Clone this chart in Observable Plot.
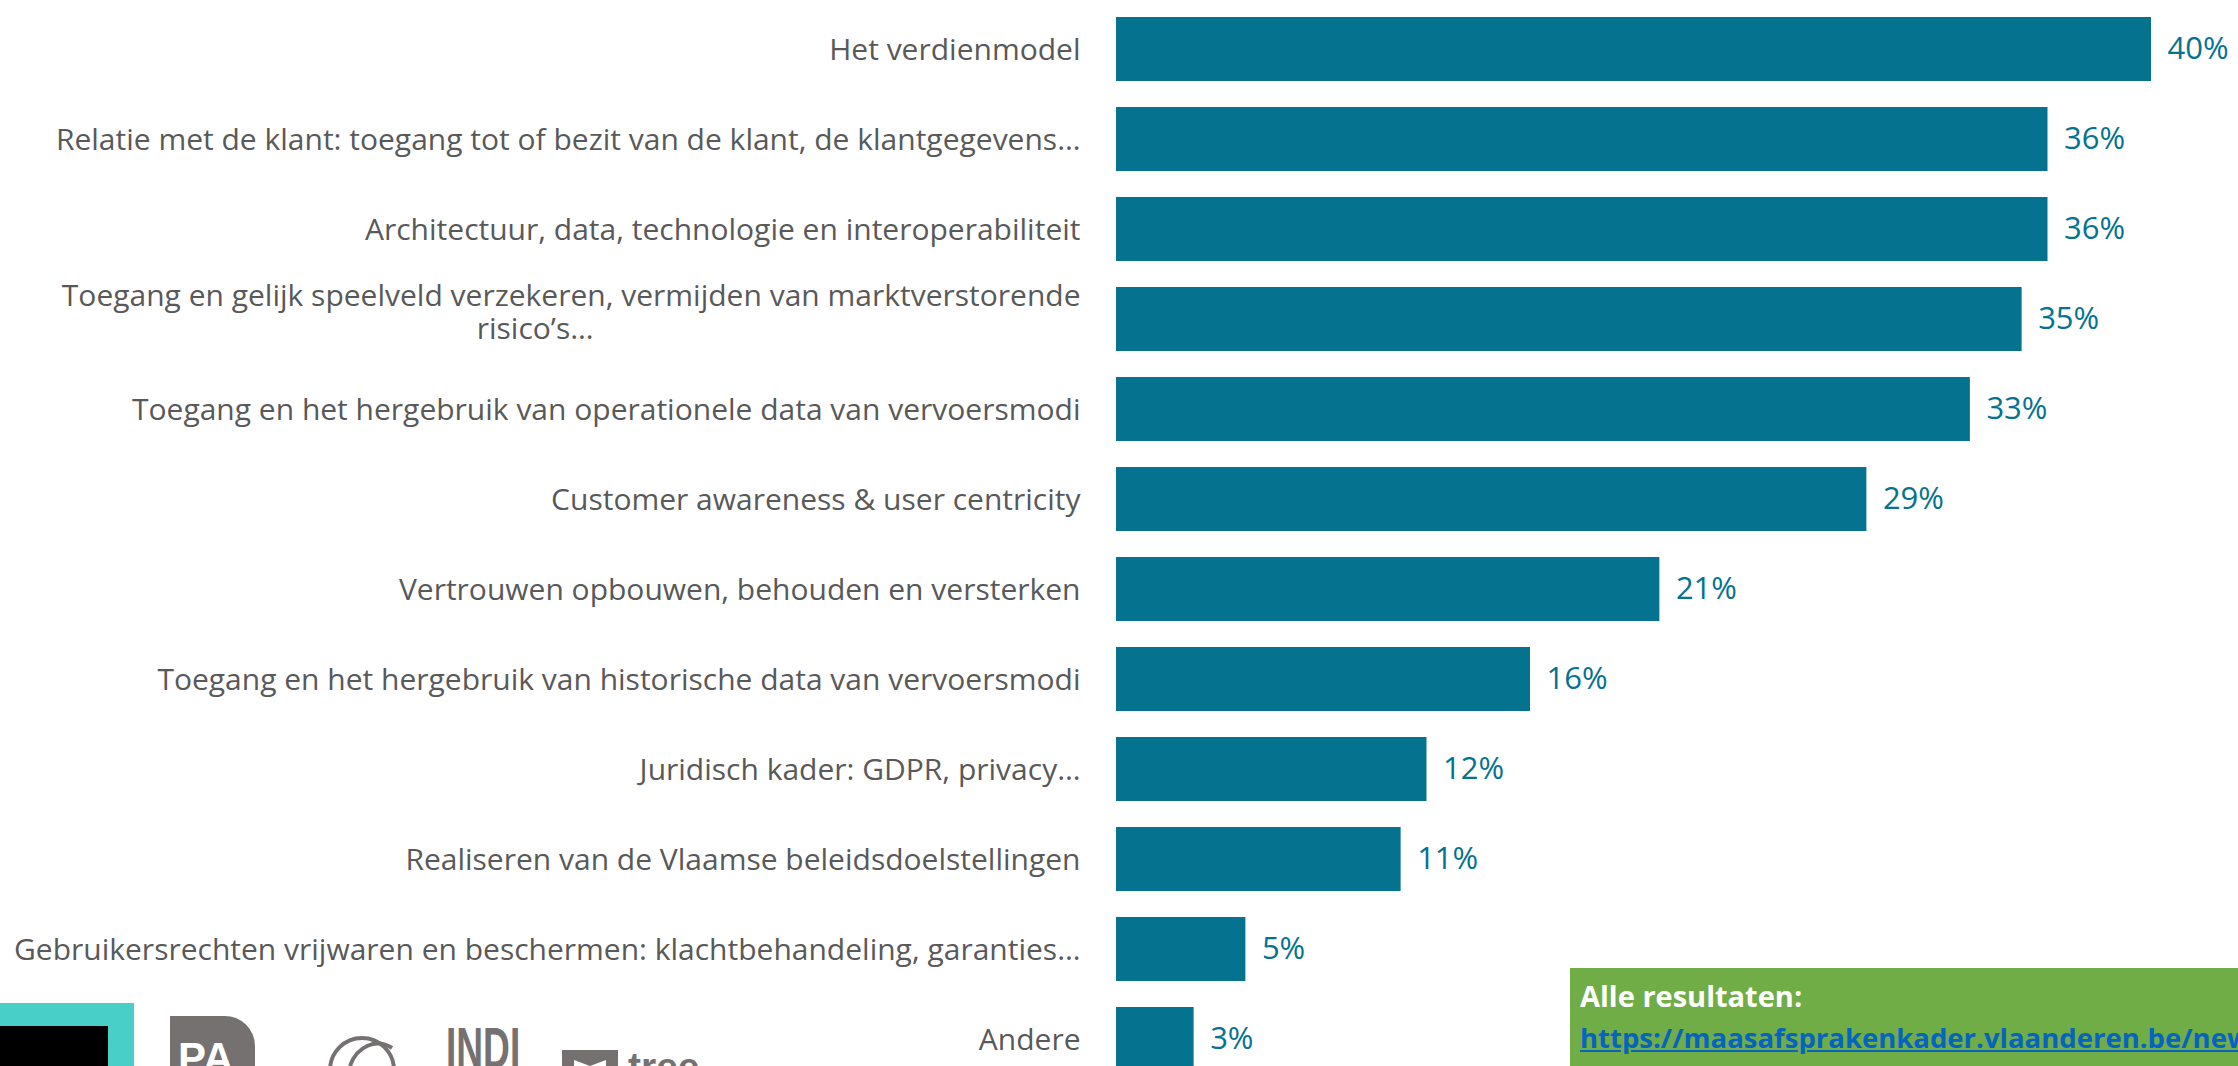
<!DOCTYPE html>
<html>
<head>
<meta charset="utf-8">
<script src="https://cdn.jsdelivr.net/npm/d3@7"></script>
<script src="https://cdn.jsdelivr.net/npm/@observablehq/plot@0.6"></script>
<style>
  html, body { margin: 0; padding: 0; background: #fff; overflow: hidden; width: 2238px; height: 1066px; }
  #wrap { position: relative; width: 2238px; height: 1066px; overflow: hidden; }
  #chart { position: absolute; left: 0; top: 0; }
  #logos { position: absolute; left: 0; top: 0; }
  #note {
    position: absolute; left: 1570px; top: 968px; right: 0; bottom: 0;
    background: #70ad47; padding: 7px 0 0 10px; box-sizing: border-box;
    font-family: "Open Sans", sans-serif; font-weight: 700; font-size: 29px;
    line-height: 41px; white-space: nowrap; overflow: hidden; color: #fff;
  }
  #note a { color: #0563c1; text-decoration: underline; font-size: 27.5px; }
</style>
</head>
<body>
<div id="wrap">
  <div id="chart"></div>
  <svg id="logos" width="700" height="1066">
    <rect x="0" y="1003" width="134" height="63" fill="#48cfc8"></rect>
    <rect x="0" y="1026" width="108" height="40" fill="#000"></rect>
    <path d="M170,1016 H225 A30,30 0 0 1 255,1046 V1066 H170 Z" fill="#767171"></path>
    <text x="178" y="1072" font-family="Liberation Sans, sans-serif" font-weight="700" font-size="42" fill="#fff">PA</text>
    <circle cx="362" cy="1070" r="32" fill="none" stroke="#767171" stroke-width="4"></circle>
    <path d="M350,1066 A30,36 0 0 1 392,1048" fill="none" stroke="#767171" stroke-width="4"></path>
    <text x="446" y="1068" font-family="Liberation Sans, sans-serif" font-weight="700" font-size="58" fill="#767171" transform="translate(446,0) scale(0.64,1) translate(-446,0)">INDI</text>
    <path d="M562,1050 H618 V1066 H606 V1060 L590,1066 L574,1060 V1066 H562 Z" fill="#767171"></path>
    <text x="628" y="1080" font-family="Liberation Sans, sans-serif" font-weight="700" font-size="39" fill="#767171">tree</text>
  </svg>
  <div id="note">Alle resultaten:<br><a>https://maasafsprakenkader.vlaanderen.be/news</a></div>
</div>
<script>
const categories = [
  "Het verdienmodel",
  "Relatie met de klant: toegang tot of bezit van de klant, de klantgegevens…",
  "Architectuur, data, technologie en interoperabiliteit",
  "Toegang en gelijk speelveld verzekeren, vermijden van marktverstorende\nrisico’s…",
  "Toegang en het hergebruik van operationele data van vervoersmodi",
  "Customer awareness & user centricity",
  "Vertrouwen opbouwen, behouden en versterken",
  "Toegang en het hergebruik van historische data van vervoersmodi",
  "Juridisch kader: GDPR, privacy…",
  "Realiseren van de Vlaamse beleidsdoelstellingen",
  "Gebruikersrechten vrijwaren en beschermen: klachtbehandeling, garanties…",
  "Andere"
];
const values = [40, 36, 36, 35, 33, 29, 21, 16, 12, 11, 5, 3];

const data = categories.map((c, i) => ({category: c, value: values[i]}));
const barColor = "#05728f";
const labelColor = "#595959";

const chart = Plot.plot({
  width: 2238,
  height: 1066,
  marginLeft: 1116,
  marginRight: 87,
  marginTop: 0,
  marginBottom: 0,
  style: {fontFamily: "'Open Sans', sans-serif", background: "transparent"},
  x: {domain: [0, 40], axis: null},
  y: {domain: categories, range: [12, 1075.8], paddingInner: 0.284, paddingOuter: 0, axis: null},
  marks: [
    Plot.barX(data, {x: "value", y: "category", fill: barColor}),
    Plot.text(data, {
      y: "category", text: "category", frameAnchor: "left", textAnchor: "end",
      dx: -36, fontSize: 30, lineHeight: 1.1, fill: labelColor
    }),
    Plot.text(data, {
      x: "value", y: "category", text: d => d.value + "%", textAnchor: "start",
      dx: 16, fontSize: 31, fill: barColor
    })
  ]
});
document.getElementById("chart").appendChild(chart);

// centre the wrapped second line of the two-line label under its first line,
// and lift the block slightly as in the reference
chart.querySelectorAll("text").forEach(t => {
  const spans = t.querySelectorAll("tspan");
  if (spans.length === 2) {
    const w1 = spans[0].getComputedTextLength();
    const w2 = spans[1].getComputedTextLength();
    spans[1].setAttribute("x", String(-(w1 / 2) - 36 + w2 / 2));
    const tr = t.getAttribute("transform") || "";
    t.setAttribute("transform", tr + " translate(0,-8)");
  }
});
</script>
</body>
</html>
